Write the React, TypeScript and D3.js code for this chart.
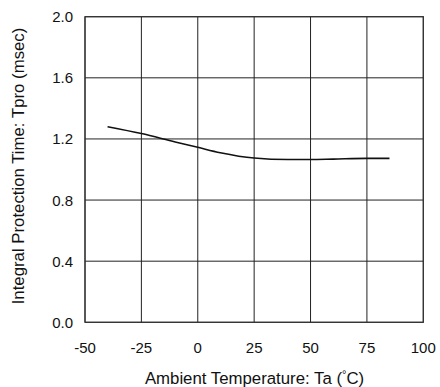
import React from "react";
import * as d3 from "d3";

const temps = [-40, -25, -10, 0, 10, 25, 40, 50, 60, 75, 85];
const tpro = [1.28, 1.235, 1.18, 1.145, 1.11, 1.075, 1.065, 1.065, 1.068, 1.073, 1.073];
const xTicks = [-50, -25, 0, 25, 50, 75, 100];
const yTicks = [0.0, 0.4, 0.8, 1.2, 1.6, 2.0];
const xTitle = "Ambient Temperature: Ta (";
const yTitle = "Integral Protection Time: Tpro (msec)";

export default function App() {
  const W = 440, H = 387;
  const left = 85, right = 423.3, top = 16.7, bottom = 322.3;
  const x = d3.scaleLinear().domain([-50, 100]).range([left, right]);
  const y = d3.scaleLinear().domain([0, 2]).range([bottom, top]);
  const line = d3.line<number>()
    .x((_, i) => x(temps[i]))
    .y((d) => y(d))
    .curve(d3.curveMonotoneX);
  const font = "'Liberation Sans', Arial, sans-serif";
  return (
    <svg width={W} height={H} style={{ position: "absolute", left: 0, top: 0, background: "#fff" }} fontFamily={font}>
      {xTicks.map((t) => (
        <line key={"gx" + t} x1={x(t)} x2={x(t)} y1={top} y2={bottom} stroke="#222" strokeWidth={1} />
      ))}
      {yTicks.map((t) => (
        <line key={"gy" + t} x1={left} x2={right} y1={y(t)} y2={y(t)} stroke="#222" strokeWidth={1} />
      ))}
      <rect x={left} y={top} width={right - left} height={bottom - top} fill="none" stroke="#333" strokeWidth={1.2} />
      <path d={line(tpro) || ""} fill="none" stroke="#111" strokeWidth={1.6} />
      {xTicks.map((t) => (
        <text key={"tx" + t} x={x(t)} y={347} textAnchor="middle" dominantBaseline="central" fontSize={15} fill="#111">{t}</text>
      ))}
      {yTicks.map((t) => (
        <text key={"ty" + t} x={73} y={y(t)} textAnchor="end" dominantBaseline="central" fontSize={15} fill="#111">{t.toFixed(1)}</text>
      ))}
      <text x={254.5} y={378} textAnchor="middle" dominantBaseline="central" fontSize={16.8} fill="#111">
        {xTitle}<tspan fontSize={11} dy={-4}>°</tspan><tspan dy={4}>C)</tspan>
      </text>
      <text transform={`translate(18,166) rotate(-90)`} textAnchor="middle" dominantBaseline="central" fontSize={16.8} fill="#111">{yTitle}</text>
    </svg>
  );
}
